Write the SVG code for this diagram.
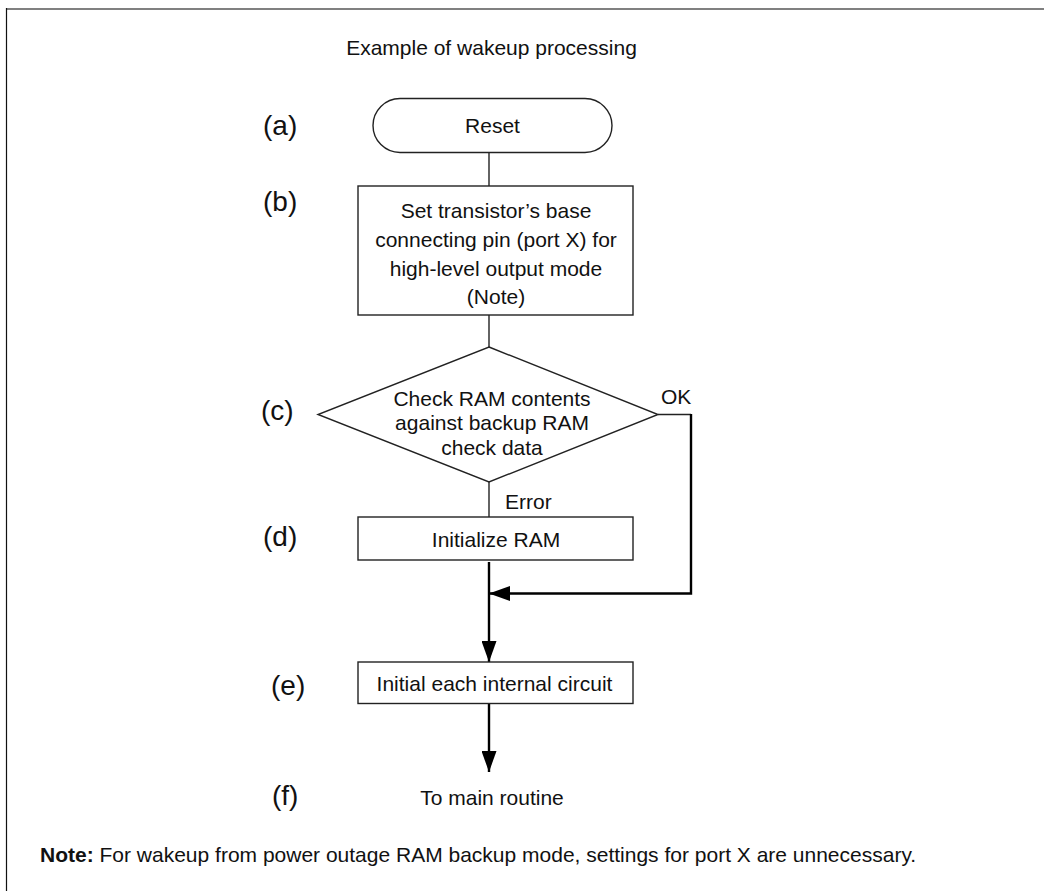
<svg xmlns="http://www.w3.org/2000/svg" width="1044" height="891" viewBox="0 0 1044 891">
  <style>
    text { font-family: "Liberation Sans", Arial, sans-serif; font-size: 21px; fill: #111; }
    .c { text-anchor: middle; }
    .lbl { font-size: 28px; }
    .shape { fill: #fff; stroke: #222; stroke-width: 1.4; }
    .thin { fill: none; stroke: #222; stroke-width: 1.4; }
    .thick { fill: none; stroke: #000; stroke-width: 2.4; }
  </style>
  <defs>
    <marker id="arr" markerUnits="userSpaceOnUse" markerWidth="21" markerHeight="15" refX="21" refY="7.5" orient="auto">
      <path d="M0,0 L21,7.5 L0,15 z" fill="#000"/>
    </marker>
  </defs>
  <rect width="1044" height="891" fill="#fff"/>
  <g id="frame">
    <line x1="6" y1="9" x2="1044" y2="9" stroke="#808080" stroke-width="2"/>
    <line x1="6.5" y1="8" x2="6.5" y2="891" stroke="#111" stroke-width="1.2"/>
  </g>
  <text id="title" class="c" x="491.5" y="55">Example of wakeup processing</text>

  <g id="labels">
    <text class="lbl" x="263" y="135">(a)</text>
    <text class="lbl" x="263" y="211">(b)</text>
    <text class="lbl" x="261" y="420">(c)</text>
    <text class="lbl" x="263" y="546">(d)</text>
    <text class="lbl" x="271" y="695">(e)</text>
    <text class="lbl" x="272" y="805">(f)</text>
  </g>

  <g id="connectors">
    <line class="thin" x1="489" y1="153" x2="489" y2="186"/>
    <line class="thin" x1="489" y1="315" x2="489" y2="347"/>
    <line class="thin" x1="489" y1="482" x2="489" y2="517"/>
    <line class="thin" x1="658" y1="414.5" x2="691" y2="414.5"/>
    <path class="thick" d="M691,414 L691,593.5 L489,593.5" marker-end="url(#arr)"/>
    <line class="thick" x1="489" y1="562" x2="489" y2="662" marker-end="url(#arr)"/>
    <line class="thick" x1="489" y1="703.5" x2="489" y2="772" marker-end="url(#arr)"/>
    <text x="661" y="404">OK</text>
    <text x="505" y="509">Error</text>
  </g>

  <g id="node-a">
    <rect class="shape" x="373" y="98.5" width="239" height="54" rx="27" ry="27"/>
    <text class="c" x="492.5" y="133">Reset</text>
  </g>
  <g id="node-b">
    <rect class="shape" x="358" y="186" width="275" height="129"/>
    <text class="c" x="496" y="218">Set transistor’s base</text>
    <text class="c" x="496" y="247">connecting pin (port X) for</text>
    <text class="c" x="496" y="275.5">high-level output mode</text>
    <text class="c" x="496" y="304">(Note)</text>
  </g>
  <g id="node-c">
    <polygon class="shape" points="489,347 658,414.5 489,482 318,414.5"/>
    <text class="c" x="492" y="406">Check RAM contents</text>
    <text class="c" x="492" y="430">against backup RAM</text>
    <text class="c" x="492" y="455">check data</text>
  </g>
  <g id="node-d">
    <rect class="shape" x="358" y="517" width="275" height="43"/>
    <text class="c" x="496" y="547">Initialize RAM</text>
  </g>
  <g id="node-e">
    <rect class="shape" x="358" y="662" width="275" height="41.5"/>
    <text class="c" x="494.5" y="691">Initial each internal circuit</text>
  </g>
  <g id="node-f">
    <text class="c" x="492" y="805">To main routine</text>
  </g>
  <text id="note" x="40" y="862"><tspan font-weight="bold">Note:</tspan> For wakeup from power outage RAM backup mode, settings for port X are unnecessary.</text>
</svg>
